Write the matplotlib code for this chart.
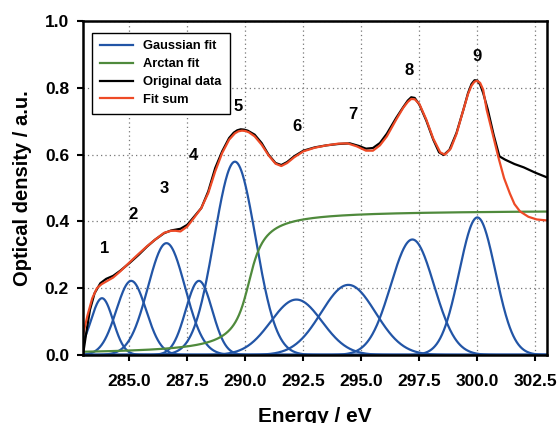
import numpy as np
import matplotlib
matplotlib.use("Agg")
import matplotlib.pyplot as plt

plt.rcParams['font.family'] = ['Liberation Sans', 'DejaVu Sans']
plt.rcParams['font.weight'] = 'bold'

# gaussian components (center / eV, height, sigma / eV)
peak_centers = [283.82, 285.08, 286.6, 288.0, 289.55, 292.2, 294.44, 297.2, 300.0]
peak_heights = [0.17, 0.222, 0.335, 0.222, 0.579, 0.166, 0.21, 0.346, 0.412]
peak_sigmas = [0.48, 0.64, 0.8, 0.57, 0.89, 1.1, 1.17, 0.93, 0.78]

# arctan step: step edge / eV, step height, width / eV
step_edge = 290.15
step_height = 0.435
step_width = 0.5

# measured spectrum
orig_energy = [283.0, 283.15, 283.3, 283.5, 283.75, 284.0, 284.3, 284.6, 285.0, 285.4,
               285.75, 286.1, 286.5, 286.8, 287.2, 287.5, 287.8, 288.1, 288.4, 288.7,
               289.0, 289.3, 289.5, 289.65, 289.8, 289.95, 290.1, 290.4, 290.7, 291.0,
               291.3, 291.55, 291.8, 292.1, 292.5, 293.0, 293.5, 294.0, 294.5, 294.9,
               295.2, 295.5, 295.8, 296.1, 296.5, 296.8, 297.0, 297.15, 297.3, 297.5,
               297.8, 298.1, 298.35, 298.55, 298.8, 299.1, 299.4, 299.6, 299.75, 299.88,
               300.0, 300.12, 300.25, 300.45, 300.7, 300.95, 301.2, 301.6, 302.0, 302.5,
               303.0]
orig_od = [0.0, 0.07, 0.135, 0.185, 0.215, 0.228, 0.237, 0.252, 0.275, 0.3,
           0.324, 0.345, 0.365, 0.373, 0.378, 0.39, 0.415, 0.44, 0.49, 0.56,
           0.61, 0.65, 0.666, 0.673, 0.676, 0.675, 0.672, 0.66, 0.635, 0.6,
           0.575, 0.569, 0.578, 0.595, 0.612, 0.622, 0.628, 0.632, 0.634, 0.626,
           0.618, 0.62, 0.635, 0.663, 0.71, 0.742, 0.762, 0.772, 0.77, 0.75,
           0.702, 0.645, 0.607, 0.599, 0.615, 0.665, 0.735, 0.785, 0.812, 0.823,
           0.822, 0.81, 0.785, 0.735, 0.66, 0.595, 0.585, 0.572, 0.562, 0.546,
           0.532]

# fitted sum as drawn in the figure
fit_energy = [283.0, 283.2, 283.4, 283.6, 283.8, 284.0, 284.3, 284.6, 285.0, 285.4,
              285.75, 286.1, 286.5, 286.8, 287.0, 287.2, 287.5, 287.8, 288.1, 288.4,
              288.7, 289.0, 289.3, 289.55, 289.7, 289.85, 290.0, 290.15, 290.4, 290.7,
              291.0, 291.3, 291.55, 291.8, 292.1, 292.5, 293.0, 293.5, 294.0, 294.4,
              294.8, 295.2, 295.5, 295.8, 296.1, 296.5, 296.8, 297.0, 297.15, 297.3,
              297.5, 297.8, 298.1, 298.4, 298.6, 298.85, 299.1, 299.4, 299.6, 299.75,
              299.88, 300.0, 300.12, 300.25, 300.4, 300.65, 300.9, 301.15, 301.4, 301.6,
              301.84, 302.2, 302.56, 303.0]
fit_od = [0.06, 0.12, 0.17, 0.2, 0.212, 0.22, 0.232, 0.25, 0.277, 0.303,
          0.325, 0.345, 0.366, 0.372, 0.372, 0.37, 0.385, 0.412, 0.44, 0.485,
          0.55, 0.605, 0.645, 0.664, 0.67, 0.672, 0.671, 0.667, 0.655, 0.63,
          0.598, 0.573, 0.566, 0.575, 0.592, 0.61, 0.621, 0.628, 0.633, 0.634,
          0.625, 0.612, 0.612, 0.628, 0.655, 0.705, 0.74, 0.758, 0.767, 0.766,
          0.752, 0.705, 0.648, 0.607, 0.6, 0.618, 0.662, 0.735, 0.782, 0.807,
          0.819, 0.821, 0.815, 0.795, 0.735, 0.665, 0.594, 0.53, 0.484, 0.452,
          0.43, 0.414, 0.406, 0.403]

peak_labels = ['1', '2', '3', '4', '5', '6', '7', '8', '9']
label_pos = [(283.92, 0.319), (285.14, 0.422), (286.49, 0.499), (287.78, 0.599),
             (289.67, 0.745), (292.21, 0.684), (294.62, 0.719), (297.07, 0.853),
             (300.0, 0.895)]

x_ticks = [285.0, 287.5, 290.0, 292.5, 295.0, 297.5, 300.0, 302.5]
y_ticks = [0.0, 0.2, 0.4, 0.6, 0.8, 1.0]

blue = '#2255a6'
green = '#4f8a3c'
red = '#ee4a26'

E = np.linspace(283.0, 303.0, 801)
gauss = [h * np.exp(-(E - c) ** 2 / (2 * s ** 2))
         for c, h, s in zip(peak_centers, peak_heights, peak_sigmas)]
arctan = step_height * (0.5 + np.arctan((E - step_edge) / step_width) / np.pi)

fig = plt.figure(figsize=(5.58, 4.23), dpi=100)
ax = fig.add_axes([0.1487, 0.1608, 0.8315, 0.7892])

for i, g in enumerate(gauss):
    ax.plot(E, g, color=blue, lw=1.6, label='Gaussian fit' if i == 0 else None)
ax.plot(E, arctan, color=green, lw=1.6, label='Arctan fit')
ax.plot(orig_energy, orig_od, color='black', lw=1.6, label='Original data',
        solid_joinstyle='round')
ax.plot(fit_energy, fit_od, color=red, lw=1.6, label='Fit sum', solid_joinstyle='round')

for txt, (lx, ly) in zip(peak_labels, label_pos):
    ax.text(lx, ly, txt, fontsize=12, fontweight='bold', ha='center', va='center')

ax.set_xlim(283.0, 303.0)
ax.set_ylim(0.0, 1.0)
ax.set_xticks(x_ticks)
ax.set_xticklabels([f'{t:.1f}' for t in x_ticks])
ax.set_yticks(y_ticks)
ax.set_yticklabels([f'{t:.1f}' for t in y_ticks])
ax.tick_params(labelsize=12.5, width=1.5, length=4)
ax.tick_params(axis='x', pad=10)
ax.tick_params(axis='y', pad=6)
ax.grid(True, color='#777777', linestyle=(0, (1, 2.5)), lw=0.9)
for sp in ax.spines.values():
    sp.set_linewidth(1.8)

ax.set_xlabel('Energy / eV', fontsize=15, fontweight='bold', labelpad=13)
ax.set_ylabel('Optical density / a.u.', fontsize=14.5, fontweight='bold', labelpad=9)

leg = ax.legend(loc='upper left', fontsize=9.3, frameon=True, fancybox=False,
                edgecolor='black', framealpha=1, handlelength=2.6,
                labelspacing=0.45, borderpad=0.6, bbox_to_anchor=(0.005, 0.985))
leg.get_frame().set_linewidth(1.0)

fig.savefig('out.png', dpi=100)
